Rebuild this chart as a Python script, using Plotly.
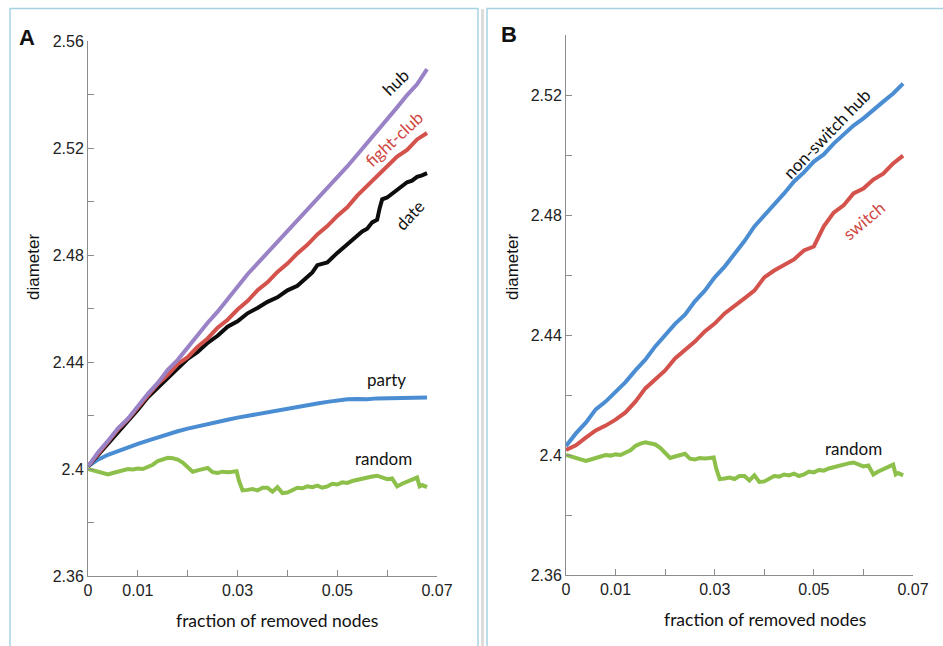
import plotly.graph_objects as go

W, H = 943, 646

# ---------------- data ----------------
frac = [0.000, 0.002, 0.004, 0.006, 0.008, 0.010, 0.012, 0.014, 0.016, 0.018,
        0.020, 0.022, 0.024, 0.026, 0.028, 0.030, 0.032, 0.034, 0.036, 0.038,
        0.040, 0.042, 0.044, 0.046, 0.048, 0.050, 0.052, 0.054, 0.056, 0.058,
        0.060, 0.062, 0.064, 0.066, 0.068]

hub = [2.401, 2.4062, 2.4105, 2.4152, 2.4188, 2.4236, 2.4281, 2.4322, 2.4371, 2.4408,
       2.4456, 2.4498, 2.4547, 2.4588, 2.4632, 2.4681, 2.4728, 2.4768, 2.4812, 2.4849,
       2.4893, 2.4928, 2.4972, 2.5008, 2.5052, 2.5088, 2.5131, 2.5175, 2.5218, 2.5262,
       2.5308, 2.5352, 2.5398, 2.5438, 2.5495]

fight_club = [2.401, 2.4058, 2.4103, 2.4148, 2.4185, 2.4232, 2.4275, 2.4318, 2.4352, 2.4392,
              2.4418, 2.4457, 2.4488, 2.4528, 2.4558, 2.4596, 2.4628, 2.4668, 2.4698, 2.4737,
              2.4768, 2.4806, 2.4838, 2.4877, 2.4908, 2.4946, 2.4978, 2.5022, 2.5058, 2.5097,
              2.5128, 2.5168, 2.5193, 2.5232, 2.5256]

date_x = [0.000, 0.002, 0.004, 0.006, 0.008, 0.010, 0.012, 0.014, 0.016, 0.018,
          0.020, 0.022, 0.024, 0.026, 0.028, 0.030, 0.032, 0.034, 0.036, 0.038,
          0.040, 0.042, 0.044, 0.045, 0.046, 0.048, 0.050, 0.052, 0.054, 0.055,
          0.056, 0.057, 0.058, 0.0585, 0.059, 0.060, 0.062, 0.064, 0.065, 0.066,
          0.067, 0.068]
date = [2.401, 2.4052, 2.4098, 2.4138, 2.4182, 2.4222, 2.4268, 2.4305, 2.4342, 2.4378,
        2.4412, 2.4438, 2.4472, 2.4498, 2.4532, 2.4552, 2.4582, 2.4602, 2.4625, 2.4642,
        2.4668, 2.4685, 2.4718, 2.4735, 2.4762, 2.4772, 2.4808, 2.4838, 2.4872, 2.4888,
        2.4898, 2.4922, 2.4932, 2.4975, 2.5008, 2.5015, 2.5042, 2.5072, 2.5078, 2.5092,
        2.5098, 2.5106]

party = [2.401, 2.4035, 2.4053, 2.4068, 2.408, 2.4094, 2.4106, 2.4119, 2.4131, 2.4141,
         2.4151, 2.416, 2.4169, 2.4177, 2.4184, 2.4192, 2.4199, 2.4205, 2.4213, 2.4219,
         2.4226, 2.4232, 2.4239, 2.4245, 2.4251, 2.4256, 2.4261, 2.4262, 2.4261, 2.4264,
         2.4265, 2.4267, 2.4268, 2.4268, 2.4267]

rand_x = [0.000, 0.001, 0.002, 0.003, 0.004, 0.005, 0.006, 0.007, 0.008, 0.009,
          0.010, 0.011, 0.012, 0.013, 0.014, 0.015, 0.016, 0.017, 0.018, 0.019,
          0.020, 0.021, 0.022, 0.023, 0.024, 0.025, 0.026, 0.027, 0.028, 0.029,
          0.0298, 0.0303,
          0.031, 0.032, 0.033, 0.034, 0.035, 0.036, 0.037, 0.038, 0.039, 0.040,
          0.041, 0.042, 0.043, 0.044, 0.045, 0.046, 0.047, 0.048, 0.049, 0.050,
          0.051, 0.052, 0.053, 0.054, 0.055, 0.056, 0.057, 0.058, 0.059, 0.060,
          0.061, 0.062, 0.063, 0.064, 0.065, 0.066,
          0.0665, 0.067, 0.068]
rand_y = [2.4, 2.3995, 2.399, 2.3988, 2.398, 2.3985, 2.399, 2.3993, 2.4, 2.3998,
          2.4002, 2.4, 2.4008, 2.4016, 2.403, 2.4038, 2.4042, 2.404, 2.4035, 2.4024,
          2.4008, 2.399, 2.3995, 2.3998, 2.4004, 2.3988, 2.3985, 2.399, 2.3988, 2.399,
          2.3992, 2.3955,
          2.392, 2.3922, 2.3925, 2.392, 2.393, 2.393, 2.3915, 2.3932, 2.391, 2.3912,
          2.3922, 2.393, 2.3928, 2.3935, 2.3932, 2.3938, 2.393, 2.3935, 2.3945, 2.3942,
          2.395, 2.3948, 2.3955, 2.396, 2.3962, 2.3968, 2.3972, 2.3975, 2.397, 2.3962,
          2.3965, 2.3935, 2.3945, 2.3952, 2.396, 2.3968,
          2.3935, 2.394, 2.3932]

non_switch_hub = [2.403, 2.4072, 2.4108, 2.4152, 2.4178, 2.4212, 2.4243, 2.4282, 2.4318, 2.4362,
                  2.4398, 2.4437, 2.4468, 2.4512, 2.4548, 2.4592, 2.4628, 2.4668, 2.4713, 2.4762,
                  2.4798, 2.4838, 2.4872, 2.4912, 2.4942, 2.4978, 2.5002, 2.5038, 2.5068, 2.5098,
                  2.5122, 2.5152, 2.5178, 2.5205, 2.5238]

switch = [2.4017, 2.4032, 2.4058, 2.4082, 2.4098, 2.4118, 2.4142, 2.4178, 2.4222, 2.4252,
          2.4282, 2.4322, 2.4348, 2.4378, 2.4412, 2.4438, 2.4472, 2.4495, 2.4522, 2.4548,
          2.4592, 2.4615, 2.4635, 2.4652, 2.4682, 2.4695, 2.4762, 2.4808, 2.4832, 2.4872,
          2.4888, 2.4918, 2.4938, 2.4972, 2.4998]

x_tickvals = [0.0, 0.01, 0.02, 0.03, 0.04, 0.05, 0.06, 0.07]
x_ticktext = ["0", "0.01", "", "0.03", "", "0.05", "", "0.07"]
ya_tickvals = [2.36, 2.38, 2.40, 2.42, 2.44, 2.46, 2.48, 2.50, 2.52, 2.54, 2.56]
ya_ticktext = ["2.36", "", "2.4", "", "2.44", "", "2.48", "", "2.52", "", "2.56"]
yb_tickvals = [2.36, 2.38, 2.40, 2.42, 2.44, 2.46, 2.48, 2.50, 2.52, 2.54]
yb_ticktext = ["2.36", "", "2.4", "", "2.44", "", "2.48", "", "2.52", ""]

# ---------------- styles ----------------
PURPLE = "#9a82c6"
RED = "#d4524c"
BLACK = "#0d0d0d"
BLUE = "#4b8dd2"
GREEN = "#8cc04a"
LW = 4

fig = go.Figure()

def add(x, y, color, xa, ya):
    fig.add_trace(go.Scatter(x=x, y=y, mode="lines", xaxis=xa, yaxis=ya,
                             line=dict(color=color, width=LW), showlegend=False,
                             hoverinfo="skip"))

# Panel A
add(rand_x, rand_y, GREEN, "x", "y")
add(frac, party, BLUE, "x", "y")
add(date_x, date, BLACK, "x", "y")
add(frac, fight_club, RED, "x", "y")
add(frac, hub, PURPLE, "x", "y")
# Panel B
add(rand_x, rand_y, GREEN, "x2", "y2")
add(frac, switch, RED, "x2", "y2")
add(frac, non_switch_hub, BLUE, "x2", "y2")

def px(v):
    return v / W

def py(v):
    return 1 - v / H

tickfont = dict(family="Liberation Sans, Arial, sans-serif", size=16, color="#222")
axis_common = dict(showline=True, linecolor="#8c8c8c", linewidth=1, ticks="inside",
                   ticklen=6, tickcolor="#8c8c8c", showgrid=False, zeroline=False,
                   tickfont=tickfont, automargin=False)

fig.update_layout(
    width=W, height=H,
    margin=dict(l=0, r=0, t=0, b=0),
    paper_bgcolor="white", plot_bgcolor="rgba(0,0,0,0)",
    xaxis=dict(domain=[px(88), px(437)], range=[0, 0.07], anchor="y",
               tickvals=x_tickvals, ticktext=x_ticktext, **axis_common),
    yaxis=dict(domain=[py(576), py(41)], range=[2.36, 2.56], anchor="x",
               tickvals=ya_tickvals, ticktext=ya_ticktext, **axis_common),
    xaxis2=dict(domain=[px(566), px(913)], range=[0, 0.07], anchor="y2",
                tickvals=x_tickvals, ticktext=x_ticktext, **axis_common),
    yaxis2=dict(domain=[py(575), py(35)], range=[2.36, 2.54], anchor="x2",
                tickvals=yb_tickvals, ticktext=yb_ticktext, **axis_common),
)

# frames
fig.add_shape(type="rect", xref="paper", yref="paper", x0=px(481), x1=px(484),
              y0=-0.05, y1=py(9), line=dict(width=0), fillcolor="#dcdcdc", layer="below")
fig.add_shape(type="rect", xref="paper", yref="paper", x0=px(10), x1=px(478),
              y0=-0.05, y1=py(8.5), line=dict(color="#a6d2e2", width=1.5))
fig.add_shape(type="rect", xref="paper", yref="paper", x0=px(487), x1=1.05,
              y0=-0.05, y1=py(8.5), line=dict(color="#a6d2e2", width=1.5))

lab = "Lato, 'Open Sans', sans-serif"
helv = "Liberation Sans, Arial, sans-serif"

def note(text, x, y, size=17, color="#111", angle=0, family=lab, bold=False):
    t = f"<b>{text}</b>" if bold else text
    fig.add_annotation(text=t, x=px(x), y=py(y), xref="paper", yref="paper",
                       showarrow=False, textangle=angle, xanchor="center", yanchor="middle",
                       font=dict(family=family, size=size, color=color))

# panel letters
note("A", 27, 37, size=22, family=helv, bold=True)
note("B", 509, 35, size=22, family=helv, bold=True)

# axis titles
note("diameter", 33, 267, size=17, family=helv, angle=-90)
note("diameter", 512, 267, size=17, family=helv, angle=-90)
note("fraction of removed nodes", 277, 620, size=17.5)
note("fraction of removed nodes", 765, 619, size=17.5)

# series labels panel A
note("hub", 395, 82, angle=-44)
note("fight-club", 393, 139, angle=-43, color="#d0463f")
note("date", 409, 215, angle=-47)
note("party", 386, 379)
note("random", 383, 458)
# panel B
note("non-switch hub", 827, 134, angle=-46)
note("switch", 864, 221, angle=-40, color="#d0463f")
note("random", 853, 448)

fig.write_html(
    "out.html",
    config={"displayModeBar": False},
    post_script="document.body.style.margin='0';document.body.style.overflow='hidden';",
)
